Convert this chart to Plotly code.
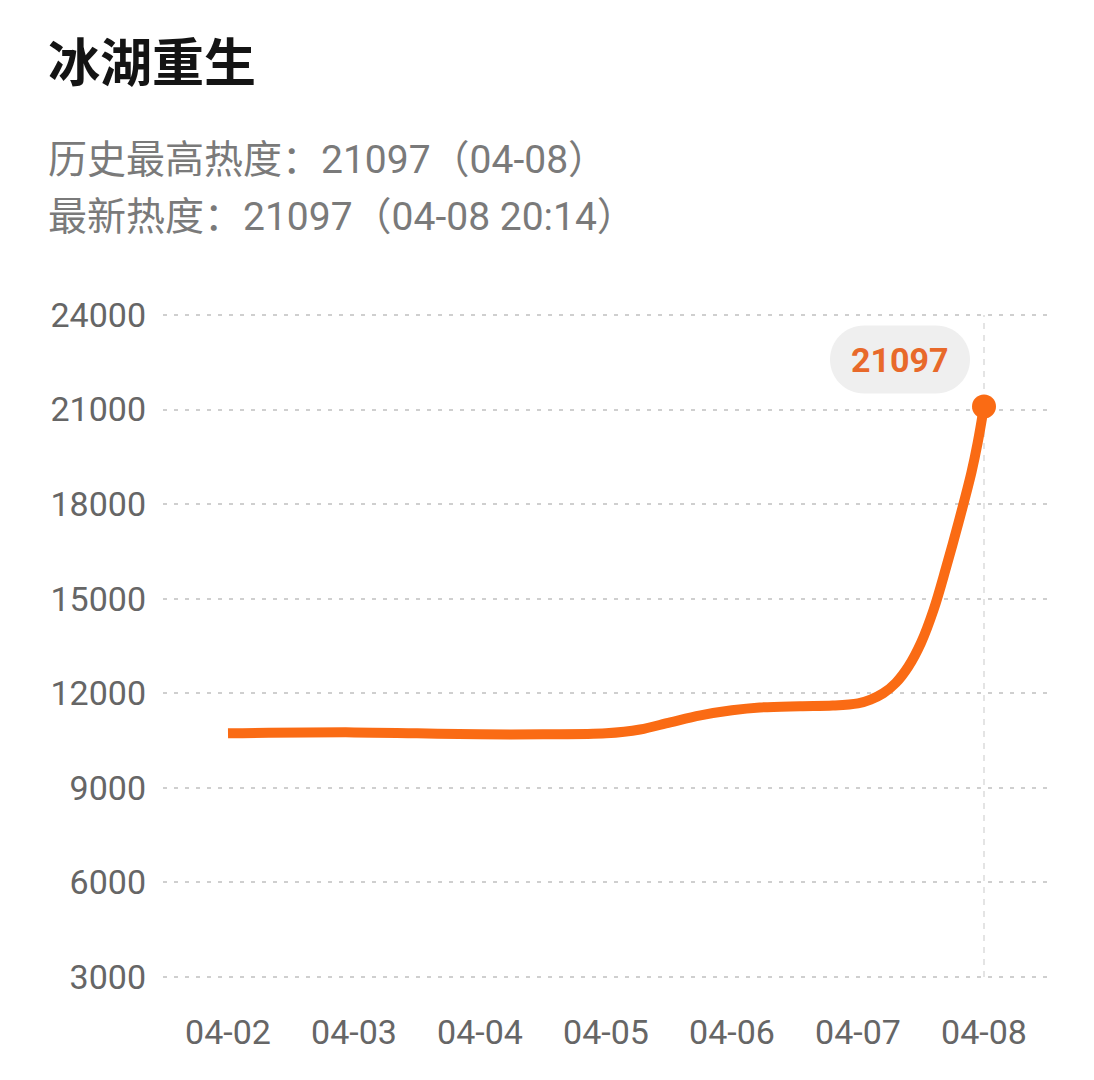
import plotly.graph_objects as go

# ---- data ----
title_text = "冰湖重生"
subtitle_1 = "历史最高热度：21097（04-08）"
subtitle_2 = "最新热度：21097（04-08 20:14）"

date_labels = ["04-02", "04-03", "04-04", "04-05", "04-06", "04-07", "04-08"]
date_positions = [0, 1, 2, 3, 4, 5, 6]

# time (in days since 04-02) and heat values
t_days = [0.0, 1.0, 1.5, 2.0, 2.5, 3.0, 3.27, 3.51, 3.75, 4.0, 4.22, 4.54, 4.8,
          5.0, 5.1, 5.2, 5.3, 5.4, 5.5, 5.6, 5.7, 5.8, 5.9, 5.95, 6.0]
heat = [10730, 10760, 10730, 10700, 10700, 10730, 10850, 11080, 11300, 11460, 11550,
        11590, 11610, 11680, 11800, 12000, 12330, 12850, 13600, 14650, 16000, 17450,
        19000, 19950, 21097]

y_ticks = [3000, 6000, 9000, 12000, 15000, 18000, 21000, 24000]
peak_label = "21097"

# ---- style ----
ORANGE = "#FA6B14"
LABEL_ORANGE = "#E8692A"
FONT = "Roboto, 'Noto Sans CJK SC', sans-serif"

# page body has an 8px default margin; compensate so the picture lines up
OFF = 8
W, H = 1094 - OFF, 1080 - OFF
L, R, T, B = 163 - OFF, 43, 309 - OFF, 97
plot_w = W - L - R
plot_h = H - T - B


def px_to_paper_x(px):
    return (px - OFF - L) / plot_w


def px_to_paper_y(py):
    return (H - B - (py - OFF)) / plot_h


fig = go.Figure()

fig.add_trace(go.Scatter(
    x=t_days, y=heat, mode="lines",
    line=dict(color=ORANGE, width=10, shape="spline", smoothing=1.0),
    hoverinfo="skip", showlegend=False,
))
fig.add_trace(go.Scatter(
    x=[t_days[-1]], y=[heat[-1]], mode="markers",
    marker=dict(color=ORANGE, size=24),
    hoverinfo="skip", showlegend=False, cliponaxis=False,
))

# vertical dashed guide at latest point
fig.add_shape(type="line", xref="x", yref="y",
              x0=t_days[-1], x1=t_days[-1], y0=y_ticks[0], y1=y_ticks[-1],
              line=dict(color="#dcdcdc", width=1.5, dash="6px,6px"), layer="below")

# pill bubble behind peak label (pixel coords relative to last point)
pill = ("M -120,13 L -48,13 C -29.2,13 -14,28.2 -14,47 C -14,65.8 -29.2,81 -48,81 "
        "L -120,81 C -138.8,81 -154,65.8 -154,47 C -154,28.2 -138.8,13 -120,13 Z")
fig.add_shape(type="path", xsizemode="pixel", ysizemode="pixel",
              xanchor=t_days[-1], yanchor=heat[-1], xref="x", yref="y",
              path=pill, fillcolor="#efefef", line=dict(width=0), layer="above")
fig.add_annotation(x=t_days[-1], y=heat[-1], xref="x", yref="y",
                   text=f"<b>{peak_label}</b>", showarrow=False,
                   xshift=-84, yshift=47,
                   font=dict(family=FONT, size=34, color=LABEL_ORANGE))

# title and subtitles
fig.add_annotation(xref="paper", yref="paper", x=px_to_paper_x(46), y=px_to_paper_y(65),
                   xanchor="left", yanchor="middle", showarrow=False,
                   text=f"<b>{title_text}</b>",
                   font=dict(family=FONT, size=52, color="#141414"))
fig.add_annotation(xref="paper", yref="paper", x=px_to_paper_x(46), y=px_to_paper_y(160),
                   xanchor="left", yanchor="middle", showarrow=False,
                   text=subtitle_1, font=dict(family=FONT, size=39, color="#7a7a7a"))
fig.add_annotation(xref="paper", yref="paper", x=px_to_paper_x(46), y=px_to_paper_y(217),
                   xanchor="left", yanchor="middle", showarrow=False,
                   text=subtitle_2, font=dict(family=FONT, size=39, color="#7a7a7a"))

fig.update_layout(
    width=W, height=H,
    margin=dict(l=L, r=R, t=T, b=B, pad=0),
    paper_bgcolor="white", plot_bgcolor="white",
    font=dict(family=FONT),
    showlegend=False,
)
fig.update_xaxes(
    range=[-65 / 126, 6 + 67 / 126],
    tickmode="array", tickvals=date_positions, ticktext=date_labels,
    showgrid=False, zeroline=False, showline=False, ticks="",
    tickfont=dict(family=FONT, size=34, color="#666666"),
    ticklabelstandoff=26,
)
fig.update_yaxes(
    range=[2810, 24190],
    tickmode="array", tickvals=y_ticks, ticktext=[str(v) for v in y_ticks],
    showgrid=True, gridcolor="#cfcfcf", gridwidth=2, griddash="4px,7px",
    zeroline=False, showline=False, ticks="",
    tickfont=dict(family=FONT, size=34, color="#666666"),
    ticklabelstandoff=16,
)

fig.write_html("out.html")
